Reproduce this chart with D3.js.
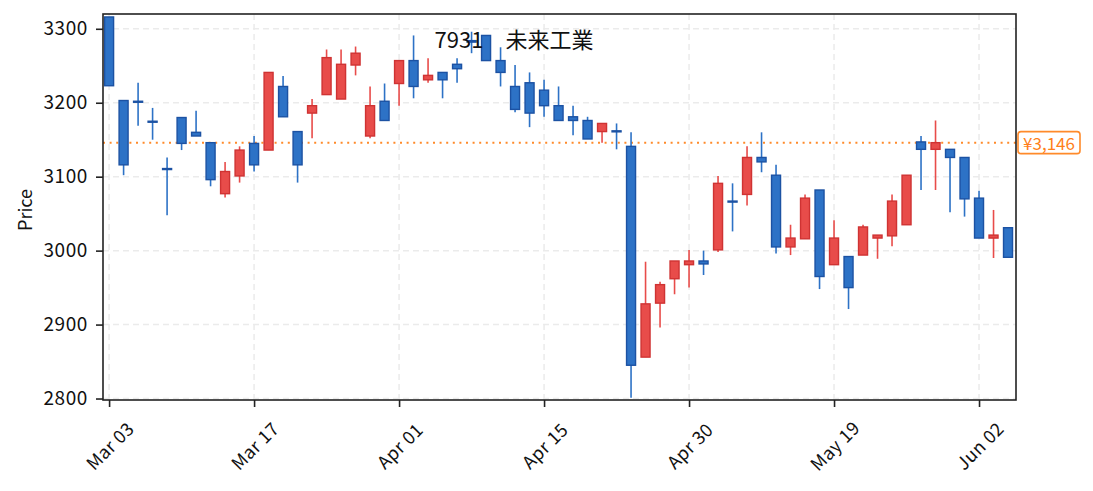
<!DOCTYPE html>
<html>
<head>
<meta charset="utf-8">
<script src="https://cdn.jsdelivr.net/npm/d3@7"></script>
<style>
  body { margin: 0; background: #fff; }
  text { font-family: "Noto Sans CJK JP", "Noto Sans", sans-serif; }
</style>
</head>
<body>
<div id="chart"></div>
<script>
// candlestick chart: 7931 未来工業, daily bars Mar-Jun

var dates = ["2026-03-03","2026-03-04","2026-03-05","2026-03-06","2026-03-09","2026-03-10","2026-03-11",
  "2026-03-12","2026-03-13","2026-03-16","2026-03-17","2026-03-18","2026-03-19","2026-03-23","2026-03-24",
  "2026-03-25","2026-03-26","2026-03-27","2026-03-30","2026-03-31","2026-04-01","2026-04-02","2026-04-03",
  "2026-04-06","2026-04-07","2026-04-08","2026-04-09","2026-04-10","2026-04-13","2026-04-14","2026-04-15",
  "2026-04-16","2026-04-17","2026-04-20","2026-04-21","2026-04-22","2026-04-23","2026-04-24","2026-04-27",
  "2026-04-28","2026-04-30","2026-05-01","2026-05-07","2026-05-08","2026-05-11","2026-05-12","2026-05-13",
  "2026-05-14","2026-05-15","2026-05-18","2026-05-19","2026-05-20","2026-05-21","2026-05-22","2026-05-25",
  "2026-05-26","2026-05-27","2026-05-28","2026-05-29","2026-06-01","2026-06-02","2026-06-03","2026-06-04"];

var open  = [3316,3203,3202,3175,3111,3180,3160,3146,3077,3101,3145,3136,3222,3161,3186,3211,3205,3251,3155,3202,
             3226,3257,3231,3241,3252,3284,3291,3257,3222,3227,3217,3196,3181,3176,3161,3162,3141,2856,2929,2962,
             2981,2986,3001,3067,3076,3126,3102,3005,3016,3082,2981,2992,2994,3017,3020,3035,3147,3137,3137,3126,
             3071,3017,3031];
var high  = [3316,3203,3227,3193,3126,3180,3189,3146,3120,3141,3155,3241,3236,3161,3205,3272,3272,3276,3222,3226,
             3257,3291,3260,3241,3260,3296,3291,3275,3251,3241,3231,3222,3196,3181,3172,3172,3160,2985,2958,2986,
             3001,3000,3101,3091,3141,3160,3116,3035,3076,3082,3041,2992,3035,3021,3076,3102,3155,3176,3137,3126,
             3081,3055,3031];
var low   = [3223,3102,3169,3150,3048,3136,3155,3087,3072,3092,3107,3136,3181,3092,3152,3211,3205,3237,3152,3176,
             3196,3206,3227,3206,3227,3267,3257,3222,3187,3167,3181,3176,3156,3151,3146,3137,2801,2856,2896,2941,
             2950,2967,2998,3026,3061,3106,2996,2994,3016,2948,2981,2921,2994,2989,3006,3035,3082,3082,3052,3046,
             3017,2990,2991];
var close = [3223,3116,3201,3174,3110,3145,3155,3096,3107,3136,3116,3241,3181,3116,3196,3261,3252,3267,3196,3176,
             3257,3222,3237,3231,3246,3282,3257,3241,3191,3186,3196,3176,3176,3151,3172,3161,2845,2928,2954,2986,
             2986,2982,3091,3066,3126,3120,3005,3017,3071,2965,3017,2950,3032,3021,3067,3102,3137,3146,3126,3070,
             3017,3021,2991];

var refPrice = 3146;
var yTicks = [2800, 2900, 3000, 3100, 3200, 3300];
var xTickIdx = [0, 10, 20, 30, 40, 50, 60];

var width = 1093,
    height = 491,
    margin = {top: 14, right: 77, bottom: 91, left: 103};

var upFill = "#e84c4a", upLine = "#cf3333",
    downFill = "#2d72c6", downLine = "#1c52a3";

var svg = d3.select("#chart").append("svg")
    .attr("width", width)
    .attr("height", height);

var x = d3.scaleLinear()
    .domain([-0.42, dates.length - 0.45])
    .range([margin.left, width - margin.right]);

var y = d3.scaleLinear()
    .domain([2798, 3320])
    .range([height - margin.bottom, margin.top]);

var parse = d3.timeParse("%Y-%m-%d"),
    fmt = d3.timeFormat("%b %d");

// grid
svg.append("g").selectAll("line")
    .data(yTicks).enter().append("line")
    .attr("x1", margin.left).attr("x2", width - margin.right)
    .attr("y1", d => y(d)).attr("y2", d => y(d))
    .attr("stroke", "#ebebeb").attr("stroke-width", 1.5)
    .attr("stroke-dasharray", "6,4");

svg.append("g").selectAll("line")
    .data(xTickIdx).enter().append("line")
    .attr("x1", d => x(d)).attr("x2", d => x(d))
    .attr("y1", margin.top).attr("y2", height - margin.bottom)
    .attr("stroke", "#ebebeb").attr("stroke-width", 1.5)
    .attr("stroke-dasharray", "6,4");

// reference price line
svg.append("line")
    .attr("x1", margin.left).attr("x2", width - margin.right)
    .attr("y1", y(refPrice)).attr("y2", y(refPrice))
    .attr("stroke", "#ff8a2a").attr("stroke-width", 2)
    .attr("stroke-dasharray", "2,4.6");

// candles
var bars = d3.range(dates.length).map(function(i) {
    return {i: i, o: open[i], h: high[i], l: low[i], c: close[i], up: close[i] > open[i]};
});

var bw = 9;
var candle = svg.append("g").selectAll("g")
    .data(bars).enter().append("g");

candle.append("line")
    .attr("x1", d => x(d.i)).attr("x2", d => x(d.i))
    .attr("y1", d => y(d.h)).attr("y2", d => y(d.l))
    .attr("stroke", d => d.up ? upFill : downFill)
    .attr("stroke-width", 1.6);

candle.append("rect")
    .attr("x", d => x(d.i) - bw / 2)
    .attr("width", bw)
    .attr("y", d => y(Math.max(d.o, d.c)))
    .attr("height", d => Math.max(1, y(Math.min(d.o, d.c)) - y(Math.max(d.o, d.c))))
    .attr("fill", d => d.up ? upFill : downFill)
    .attr("stroke", d => d.up ? upLine : downLine)
    .attr("stroke-width", 1.4);

// frame
svg.append("rect")
    .attr("x", margin.left).attr("y", margin.top)
    .attr("width", width - margin.left - margin.right)
    .attr("height", height - margin.top - margin.bottom)
    .attr("fill", "none").attr("stroke", "#222").attr("stroke-width", 1.6);

// y axis
var yAxis = svg.append("g")
    .attr("transform", "translate(" + margin.left + ",0)")
    .call(d3.axisLeft(y).tickValues(yTicks).tickSize(7).tickPadding(8).tickFormat(d3.format("d")));
yAxis.select(".domain").remove();
yAxis.selectAll(".tick line").attr("stroke", "#222").attr("stroke-width", 1.6);
yAxis.selectAll(".tick text")
    .attr("font-size", 19).attr("fill", "#111")
    .attr("letter-spacing", 0.6)
    .style("font-family", "'Noto Sans CJK JP', sans-serif");

// x axis
var xAxis = svg.append("g")
    .attr("transform", "translate(0," + (height - margin.bottom) + ")")
    .call(d3.axisBottom(x).tickValues(xTickIdx).tickSize(7).tickFormat(""));
xAxis.select(".domain").remove();
xAxis.selectAll(".tick line").attr("stroke", "#222").attr("stroke-width", 1.6);

svg.append("g").selectAll("text")
    .data(xTickIdx).enter().append("text")
    .attr("transform", d => "translate(" + x(d) + "," + (height - 46) + ") rotate(-45)")
    .attr("text-anchor", "middle")
    .attr("dominant-baseline", "central")
    .attr("font-size", 18)
    .attr("letter-spacing", 0.4)
    .attr("fill", "#111")
    .text(d => fmt(parse(dates[d])));

// y label
svg.append("text")
    .attr("transform", "translate(24," + y(3055) + ") rotate(-90)")
    .attr("text-anchor", "middle")
    .attr("dominant-baseline", "central")
    .attr("font-size", 18)
    .attr("fill", "#111")
    .text("Price");

// title
svg.append("text")
    .attr("x", 514).attr("y", 38)
    .attr("text-anchor", "middle")
    .attr("dominant-baseline", "central")
    .attr("font-size", 22)
    .attr("fill", "#111")
    .text("7931\u3000未来工業");

// price tag
var tag = svg.append("g")
    .attr("transform", "translate(" + (width - margin.right + 2) + "," + y(refPrice) + ")");
tag.append("rect")
    .attr("x", 0).attr("y", -11)
    .attr("width", 62).attr("height", 22)
    .attr("rx", 3)
    .attr("fill", "#fff").attr("stroke", "#ff8a2a").attr("stroke-width", 1.6);
tag.append("text")
    .attr("x", 31).attr("y", 0)
    .attr("text-anchor", "middle")
    .attr("dominant-baseline", "central")
    .attr("font-size", 17)
    .attr("fill", "#ff7f1a")
    .text("¥" + d3.format(",")(refPrice));
</script>
</body>
</html>
